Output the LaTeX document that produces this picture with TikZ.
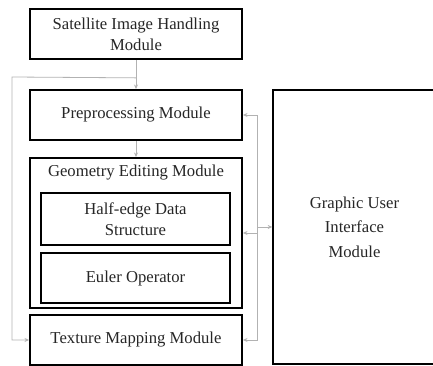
\documentclass[tikz,border=0pt]{standalone}
\usepackage{fontspec}
\setmainfont{Liberation Serif}
\usetikzlibrary{arrows.meta, positioning, calc}

\begin{document}
\begin{tikzpicture}[
    x=0.75pt, y=-0.75pt,
    module/.style={rectangle, draw=black, line width=1.3pt, minimum width=159pt, minimum height=37.5pt, font=\fontsize{12.5}{15.5}\selectfont, align=center, inner sep=2pt, text=black!85},
    inbox/.style={module, minimum width=141.75pt, minimum height=39pt},
    title/.style={font=\fontsize{12.5}{15.5}\selectfont, text=black!85, inner sep=1pt},
    conn/.style={-{Stealth[length=3.5pt, width=3pt]}, gray!60, line width=0.6pt}
]
\useasboundingbox (0,0) rectangle (433,366);

% ---- Left column ----
\node[module] (sat) at (136,34) {Satellite Image Handling\\Module};
\node[module] (pre) at (136,115) {Preprocessing Module};
\node[module, minimum height=112.5pt] (geo) at (136,233) {};
\node[title] (geotitle) at ($(geo.north)+(0,15)$) {Geometry Editing Module};
\node[inbox] (half) at (135.5,219) {Half-edge Data\\Structure};
\node[inbox, minimum height=37.5pt] (euler) at (135.5,278) {Euler Operator};
\node[module] (tex) at (136,340) {Texture Mapping Module};

% ---- GUI ----
\node[module, line width=1pt, minimum width=122.25pt, minimum height=205.5pt] (gui) at (354.5,227) {Graphic User\\[3pt]Interface\\[3pt]Module};

% ---- Connectors ----
\coordinate (split) at ($(sat.south)+(0,18)$);
\coordinate (lrail) at (12,77);
\draw[conn] (sat.south) -- (pre.north);
\draw[conn] (split) -- (lrail) |- (tex.west);
\draw[conn] (pre.south) -- (geo.north);

% bus to the GUI
\coordinate (bus) at ($(gui.west)+(-15,0)$);
\draw[conn] (bus) -- (gui.west);
\draw[conn] (bus) |- (pre.east);
\draw[conn] (bus) |- (tex.east);
\draw[conn] (bus |- geo.east) -- (geo.east);

\end{tikzpicture}
\end{document}
